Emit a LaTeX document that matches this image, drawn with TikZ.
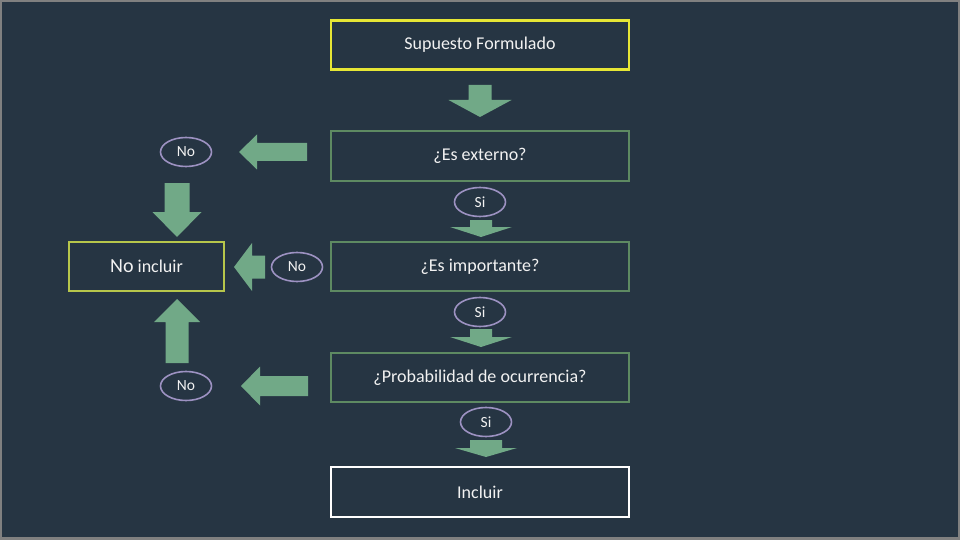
\documentclass[tikz,border=0pt]{standalone}
\usepackage{fontspec}
\setmainfont{Carlito}
\definecolor{fondo}{HTML}{263543}
\definecolor{marco}{HTML}{808080}
\definecolor{verde}{HTML}{71A987}
\definecolor{bordeverde}{HTML}{5E8A62}
\definecolor{amarillo}{HTML}{E6E635}
\definecolor{amarilloverde}{HTML}{B7C64B}
\definecolor{lila}{HTML}{9D92C2}
\definecolor{texto}{HTML}{F2F2F2}
\tikzset{
  caja/.style={draw, line width=2.8pt, fill=fondo, minimum width=298pt, minimum height=49pt, inner sep=0pt, text=texto, font=\fontsize{18}{21}\selectfont},
  resp/.style={draw=lila, ellipse, line width=1.6pt, minimum width=51pt, minimum height=29pt, inner sep=0pt, text=texto, font=\fontsize{15.5}{18}\selectfont},
  flechaverde/.style={fill=verde}
}
\newcommand{\flecha}[6]{%
  \fill[flechaverde, shift={(#1)}, rotate=#2] (0,0) -- (-#4,#6) -- (-#4,#5) -- (-#3,#5) -- (-#3,-#5) -- (-#4,-#5) -- (-#4,-#6) -- cycle;}
\usetikzlibrary{shapes.geometric}
\begin{document}
\begin{tikzpicture}[x=1pt,y=-1pt]
  \useasboundingbox (0,0) rectangle (960,540);
  \fill[marco] (0,0) rectangle (960,540);
  \fill[fondo] (2,2) rectangle (958,537);
  \node[caja, draw=amarillo] (sup) at (480,45) {Supuesto Formulado};
  \node[caja, draw=bordeverde, minimum height=50pt] (ext) at (480,156) {¿Es externo?};
  \node[caja, draw=bordeverde] (imp) at (480,266.5) {¿Es importante?};
  \node[caja, draw=bordeverde] (prob) at (480,377.5) {¿Probabilidad de ocurrencia?};
  \node[caja, draw=white, minimum height=50pt] (incl) at (480,492) {Incluir};
  \node[caja, draw=amarilloverde, minimum width=155pt] (noinc) at (146.5,266.5) {{\fontsize{20}{23}\selectfont No} incluir};
  \node[resp] (no1) at (186,152) {No};
  \node[resp] (no2) at (297,267) {No};
  \node[resp] (no3) at (186,386) {No};
  \node[resp] (si1) at (480,202) {Si};
  \node[resp] (si2) at (480,312) {Si};
  \node[resp] (si3) at (486,422) {Si};
  \flecha{480,117}{270}{32}{17}{11.5}{31.5}
  \flecha{239,152}{180}{68}{18}{9}{17.5}
  \flecha{177,237}{270}{54}{25}{12.5}{24.5}
  \flecha{481,237}{270}{17}{10}{11}{31}
  \flecha{234,267}{180}{31}{18}{11.5}{24}
  \flecha{481,347}{270}{18}{10}{11}{31}
  \flecha{177,299}{90}{64}{23}{11.5}{23}
  \flecha{241,386}{180}{67}{19}{10}{19.5}
  \flecha{486,457}{270}{17}{9}{16}{31}
\end{tikzpicture}
\end{document}
